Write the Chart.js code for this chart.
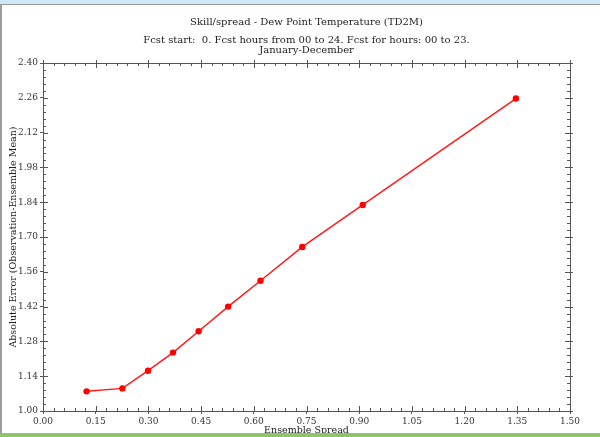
<!DOCTYPE html>
<html>
<head>
<meta charset="utf-8">
<script src="https://cdn.jsdelivr.net/npm/chart.js@4.4.1/dist/chart.umd.min.js"></script>
<style>
  html, body { margin: 0; padding: 0; background: #ffffff; }
  #frame { position: relative; width: 600px; height: 437px; overflow: hidden; background: #ffffff; }
  #topband { position: absolute; left: 0; top: 0; width: 600px; height: 4px; background: #cfe8f8; border-bottom: 1px solid #9a9a9a; }
  #leftband { position: absolute; left: 0; top: 5px; width: 2px; height: 428px; background: #9c9c9c; }
  #bottomband { position: absolute; left: 0; top: 433px; width: 600px; height: 4px; background: #8fc46c; }
  canvas { position: absolute; left: 0; top: 0; }
</style>
</head>
<body>
<div id="frame">
  <canvas id="chart" width="600" height="437"></canvas>
  <div id="topband"></div>
  <div id="leftband"></div>
  <div id="bottomband"></div>
</div>
<script>
// Ensemble spread (x) against absolute error of the ensemble mean (y)
const spreadValues = [0.124, 0.226, 0.299, 0.370, 0.443, 0.527, 0.619, 0.738, 0.910, 1.346];
const errorValues  = [1.079, 1.091, 1.162, 1.235, 1.321, 1.420, 1.524, 1.660, 1.829, 2.257];

// Axis ranges, labelled steps and minor tick steps
const xRange = [0.0, 1.5];
const xMajorStep = 0.15;
const xMinorStep = 0.03;
const yRange = [1.0, 2.4];
const yMajorStep = 0.14;
const yMinorStep = 0.028;

const titleText = 'Skill/spread - Dew Point Temperature (TD2M)';
const subtitleLines = ['Fcst start:  0. Fcst hours from 00 to 24. Fcst for hours: 00 to 23.', 'January-December'];
const xAxisTitle = 'Ensemble Spread';
const yAxisTitle = 'Absolute Error (Observation-Ensemble Mean)';

const FONT = '"DejaVu Serif"';
const AXIS_COLOR = '#555555';

const points = spreadValues.map((x, i) => ({ x: x, y: errorValues[i] }));

// Framed axes: inward minor/major ticks on all four sides plus top and right lines
const boxTicks = {
  id: 'boxTicks',
  afterDraw(chart) {
    const { ctx, chartArea: a, scales } = chart;
    const xs = scales.x, ys = scales.y;
    ctx.save();
    ctx.strokeStyle = AXIS_COLOR;
    ctx.lineWidth = 1;
    ctx.beginPath();
    // top and right frame lines
    ctx.moveTo(a.left, a.top + 0.5); ctx.lineTo(a.right + 3, a.top + 0.5);
    ctx.moveTo(a.right + 0.5, a.top - 3); ctx.lineTo(a.right + 0.5, a.bottom + 3);
    const nx = Math.round((xRange[1] - xRange[0]) / xMinorStep);
    const per = Math.round(xMajorStep / xMinorStep);
    for (let i = 0; i <= nx; i++) {
      const px = Math.round(xs.getPixelForValue(xRange[0] + i * xMinorStep)) + 0.5;
      const major = i % per === 0;
      const len = major ? 5 : 3;
      ctx.moveTo(px, a.bottom); ctx.lineTo(px, a.bottom - len);
      ctx.moveTo(px, a.top - (major ? 3 : 0)); ctx.lineTo(px, a.top + len);
    }
    const ny = Math.round((yRange[1] - yRange[0]) / yMinorStep);
    const perY = Math.round(yMajorStep / yMinorStep);
    for (let i = 0; i <= ny; i++) {
      const py = Math.round(ys.getPixelForValue(yRange[0] + i * yMinorStep)) + 0.5;
      const major = i % perY === 0;
      const len = major ? 5 : 3;
      ctx.moveTo(a.left, py); ctx.lineTo(a.left + len, py);
      ctx.moveTo(a.right + (major ? 3 : 0), py); ctx.lineTo(a.right - len, py);
    }
    ctx.stroke();
    ctx.restore();
  }
};

new Chart(document.getElementById('chart'), {
  type: 'scatter',
  data: {
    datasets: [{
      data: points,
      showLine: true,
      borderColor: '#ff1a1a',
      backgroundColor: '#ff0000',
      borderWidth: 1.5,
      pointRadius: 3.2,
      pointHoverRadius: 3.2,
      pointBorderWidth: 0,
      pointStyle: 'circle',
      tension: 0
    }]
  },
  options: {
    responsive: false,
    animation: false,
    events: [],
    layout: { padding: { left: 0, right: 30, top: 0, bottom: 0 } },
    plugins: {
      legend: { display: false },
      tooltip: { enabled: false },
      title: {
        display: true,
        fullSize: false,
        text: titleText,
        color: '#222222',
        font: { family: FONT, size: 10, weight: 'normal', lineHeight: 1.1 },
        padding: { top: 17, bottom: 7 }
      },
      subtitle: {
        display: true,
        fullSize: false,
        text: subtitleLines,
        color: '#222222',
        font: { family: FONT, size: 10, weight: 'normal', lineHeight: 1.0 },
        padding: { top: 0, bottom: 8 }
      }
    },
    scales: {
      x: {
        type: 'linear',
        min: xRange[0],
        max: xRange[1],
        afterFit(s) { s.height = 26; },
        border: { display: true, color: AXIS_COLOR, width: 1 },
        grid: { display: true, drawOnChartArea: false, drawTicks: true, tickLength: 3, color: AXIS_COLOR },
        ticks: {
          stepSize: xMajorStep,
          autoSkip: false,
          maxRotation: 0,
          padding: 2,
          color: '#333333',
          font: { family: FONT, size: 9 },
          callback: v => Number(v).toFixed(2)
        },
        title: {
          display: true,
          text: xAxisTitle,
          color: '#222222',
          font: { family: FONT, size: 9.5, lineHeight: 1.1 },
          padding: { top: 0, bottom: 1 }
        }
      },
      y: {
        type: 'linear',
        min: yRange[0],
        max: yRange[1],
        afterFit(s) { s.width = 43; },
        border: { display: true, color: AXIS_COLOR, width: 1 },
        grid: { display: true, drawOnChartArea: false, drawTicks: true, tickLength: 3, color: AXIS_COLOR },
        ticks: {
          stepSize: yMajorStep,
          autoSkip: false,
          padding: 2,
          color: '#333333',
          font: { family: FONT, size: 9 },
          callback: v => Number(v).toFixed(2)
        },
        title: {
          display: true,
          text: yAxisTitle,
          color: '#222222',
          font: { family: FONT, size: 9.5, lineHeight: 1.1 },
          padding: { top: 8, bottom: 0 }
        }
      }
    }
  },
  plugins: [boxTicks]
});
</script>
</body>
</html>
